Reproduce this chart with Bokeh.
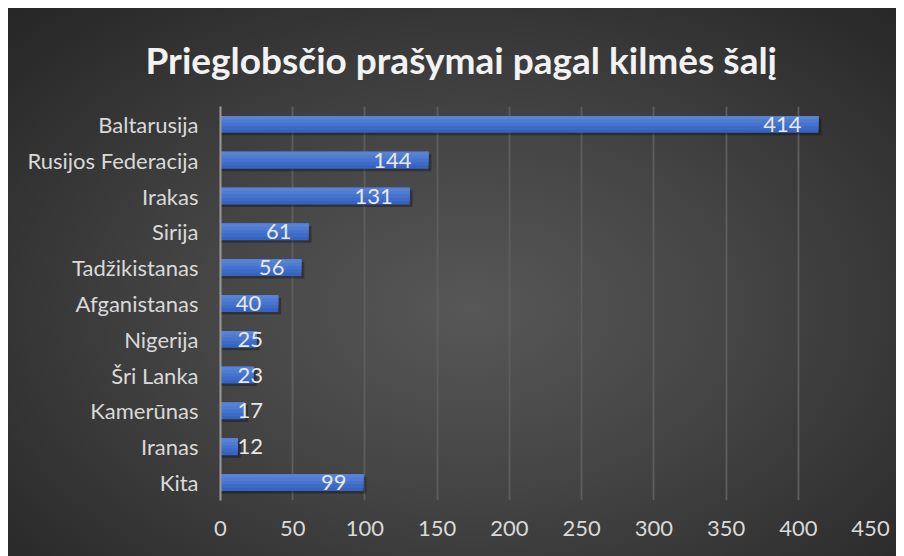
from bokeh.plotting import figure
from bokeh.models import ColumnDataSource, FactorRange, Range1d, SingleIntervalTicker
from bokeh.transform import dodge
from bokeh.embed import file_html
from bokeh.resources import INLINE

countries = ["Baltarusija", "Rusijos Federacija", "Irakas", "Sirija", "Tadžikistanas",
             "Afganistanas", "Nigerija", "Šri Lanka", "Kamerūnas", "Iranas", "Kita"]
values = [414, 144, 131, 61, 56, 40, 25, 23, 17, 12, 99]
title_text = "Prieglobsčio prašymai pagal kilmės šalį"

FONT = "Lato"
BAR_H = 0.47
GRAD = ["#3563c2", "#3d6bc7", "#4673cc", "#4f7bd1", "#5883d5"]

src = ColumnDataSource(dict(
    cat=countries,
    val=values,
    shadow=[v + 2 for v in values],
))
big = ColumnDataSource(dict(
    cat=[c for c, v in zip(countries, values) if v >= 40],
    val=[v for v in values if v >= 40],
    lbl=[str(v) for v in values if v >= 40],
))
small = ColumnDataSource(dict(
    cat=[c for c, v in zip(countries, values) if v < 40],
    zero=[0 for v in values if v < 40],
    lbl=[str(v) for v in values if v < 40],
))

p = figure(width=888, height=548, output_backend="svg", toolbar_location=None,
           y_range=FactorRange(*reversed(countries)), x_range=Range1d(0, 450),
           min_border_left=212, min_border_right=26, min_border_top=98, min_border_bottom=56)

p.background_fill_alpha = 0
p.border_fill_alpha = 0
p.outline_line_color = None
p.styles = {
    "margin": "8px 0 0 8px",
    "background": "radial-gradient(ellipse 75% 80% at 52% 55%, #575757 0%, #454545 40%, #2c2c2c 85%, #252525 100%)",
}

p.title.text = title_text
p.title.align = "left"
p.title.offset = -75
p.title.text_color = "#f2f2f2"
p.title.text_font = FONT
p.title.text_font_size = "37px"
p.title.text_font_style = "bold"
p.title.standoff = 50

# shadow
p.hbar(y=dodge("cat", -0.07, range=p.y_range), right="shadow", left=0, height=BAR_H,
       source=src, fill_color="black", fill_alpha=0.3, line_color=None)
# bars with a stepped vertical gradient (dark bottom, light top)
n = len(GRAD)
for i, col in enumerate(GRAD):
    h = BAR_H * (n - i) / n
    off = (BAR_H - h) / 2
    p.hbar(y=dodge("cat", off, range=p.y_range), right="val", left=0, height=h,
           source=src, fill_color=col, line_color=None)

p.text(x="val", y="cat", text="lbl", source=big, x_offset=-17,
       text_align="right", text_baseline="middle", text_color="#e8e8e8",
       text_font={"value": FONT}, text_font_size="22px")
p.text(x="zero", y="cat", text="lbl", source=small, x_offset=17,
       text_align="left", text_baseline="middle", text_color="#e8e8e8",
       text_font={"value": FONT}, text_font_size="22px")

p.xaxis.ticker = SingleIntervalTicker(interval=50)
p.xaxis.axis_line_color = None
p.xaxis.major_tick_line_color = None
p.xaxis.minor_tick_line_color = None
p.xaxis.major_label_text_color = "#d9d9d9"
p.xaxis.major_label_text_font = FONT
p.xaxis.major_label_text_font_size = "22px"
p.xaxis.major_label_standoff = 14

p.yaxis.axis_line_color = "#9a9a9a"
p.yaxis.axis_line_width = 2
p.yaxis.major_tick_line_color = None
p.yaxis.minor_tick_line_color = None
p.yaxis.major_label_text_color = "#d9d9d9"
p.yaxis.major_label_text_font = FONT
p.yaxis.major_label_text_font_size = "22px"
p.yaxis.major_label_standoff = 16

p.xgrid.grid_line_color = "#5e5e5e"
p.xgrid.grid_line_width = 1.8
p.ygrid.grid_line_color = None

open("out.html", "w").write(file_html(p, INLINE))
